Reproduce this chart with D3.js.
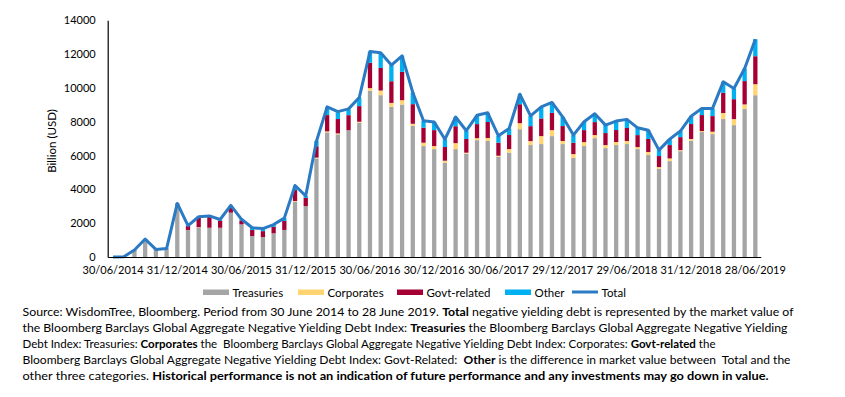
<!DOCTYPE html>
<html>
<head>
<meta charset="utf-8">
<script src="https://cdn.jsdelivr.net/npm/d3@7"></script>
<style>
  html, body { margin: 0; padding: 0; background: #fff; }
  svg { display: block; font-family: Lato, "Open Sans", sans-serif; }
</style>
</head>
<body>
<svg id="chart" width="845" height="397"></svg>
<script>
const categories = [
  "30/06/2014","31/07/2014","29/08/2014","30/09/2014","31/10/2014","28/11/2014","31/12/2014",
  "30/01/2015","27/02/2015","31/03/2015","30/04/2015","29/05/2015","30/06/2015","31/07/2015","31/08/2015","30/09/2015","30/10/2015","30/11/2015","31/12/2015",
  "29/01/2016","29/02/2016","31/03/2016","29/04/2016","31/05/2016","30/06/2016","29/07/2016","31/08/2016","30/09/2016","31/10/2016","30/11/2016","30/12/2016",
  "31/01/2017","28/02/2017","31/03/2017","28/04/2017","31/05/2017","30/06/2017","31/07/2017","31/08/2017","29/09/2017","31/10/2017","30/11/2017","29/12/2017",
  "31/01/2018","28/02/2018","30/03/2018","30/04/2018","31/05/2018","29/06/2018","31/07/2018","31/08/2018","28/09/2018","31/10/2018","30/11/2018","31/12/2018",
  "31/01/2019","28/02/2019","29/03/2019","30/04/2019","31/05/2019","28/06/2019"
];
const treasuries = [0,20,400,1000,430,480,3100,1600,1730,1730,1730,2620,1930,1240,1180,1400,1600,3270,3010,5830,
  7370,7250,7500,7940,9830,9570,8880,9020,7760,6560,6380,5575,6380,6110,6910,6860,5930,6170,7560,6620,
  6680,7150,6680,5870,6560,7030,6440,6620,6680,6380,6030,5220,5670,6260,6880,7390,7270,8160,7800,8750,9570];
const corporates = [0,0,0,0,0,0,0,0,30,0,0,0,0,0,0,0,0,40,0,50,
  60,60,0,60,160,275,235,255,120,200,180,120,355,60,120,180,60,215,355,235,
  470,355,180,215,235,180,180,180,180,120,180,100,160,60,100,60,140,355,355,275,650];
const govtRelated = [0,0,10,40,20,20,50,250,610,650,420,340,220,355,350,390,530,650,490,670,
  965,850,890,925,1500,1340,1280,1675,1160,890,945,810,1000,810,830,945,770,830,1120,885,
  1045,1020,885,670,710,770,710,710,770,710,770,650,790,770,885,945,925,1200,1180,1380,1655];
const other = [0,0,0,10,0,0,20,0,10,40,50,80,80,130,140,120,170,260,110,320,
  480,400,360,500,660,880,950,950,690,410,480,450,540,490,520,540,410,385,590,610,
  685,615,545,455,495,490,470,530,510,430,520,350,350,360,465,395,455,645,635,745,1005];
const total = [0,20,410,1060,450,500,3170,1850,2380,2430,2220,3050,2230,1730,1680,1920,2300,4230,3620,6850,
  8880,8600,8760,9430,12150,12080,11350,11900,9730,8060,7990,6960,8280,7470,8380,8530,7170,7600,9630,8350,
  8880,9140,8290,7210,8000,8470,7800,8040,8140,7640,7500,6320,6970,7450,8330,8790,8790,10360,9970,11150,12880];
const yTicks = [0,2000,4000,6000,8000,10000,12000,14000];
const xTickLabels = ["30/06/2014","31/12/2014","30/06/2015","31/12/2015","30/06/2016","30/12/2016",
  "30/06/2017","29/12/2017","29/06/2018","31/12/2018","28/06/2019"];
const seriesNames = ["Treasuries","Corporates","Govt-related","Other"];
const seriesColors = ["#a5a5a5","#ffd471","#a50034","#00b0f0"];
const totalName = "Total";
const totalColor = "#2a7ac4";

const svg = d3.select("#chart");
const x = d3.scaleBand().domain(categories).range([107.7, 760.7]).paddingInner(0.6).paddingOuter(0.3);
const y = d3.scaleLinear().domain([0, 14000]).range([257, 20.3]);

const rows = categories.map((c, i) => ({
  cat: c, Treasuries: treasuries[i], Corporates: corporates[i], "Govt-related": govtRelated[i], Other: other[i]
}));
const stacked = d3.stack().keys(seriesNames)(rows);

svg.append("g").selectAll("g").data(stacked).join("g")
  .attr("fill", (d, i) => seriesColors[i])
  .selectAll("rect").data(d => d).join("rect")
  .attr("x", d => x(d.data.cat))
  .attr("width", x.bandwidth())
  .attr("y", d => y(d[1]))
  .attr("height", d => Math.max(0, y(d[0]) - y(d[1])));

const line = d3.line().x((d, i) => x(categories[i]) + x.bandwidth() / 2).y(d => y(d));
svg.append("path").datum(total).attr("d", line)
  .attr("fill", "none").attr("stroke", totalColor).attr("stroke-width", 3).attr("stroke-linejoin", "round");

// axes
const yAxis = svg.append("g").attr("transform", "translate(107.7,0)")
  .call(d3.axisLeft(y).tickValues(yTicks).tickSize(0).tickPadding(12).tickFormat(d3.format("d")));
yAxis.select(".domain").attr("stroke", "#000").attr("stroke-width", 1.2);
yAxis.selectAll("text").attr("font-family", "Lato").attr("font-size", "11px").attr("fill", "#000");

const xAxis = svg.append("g").attr("transform", "translate(0,257)")
  .call(d3.axisBottom(x).tickValues(xTickLabels).tickSize(0).tickPadding(9).tickSizeOuter(0));
xAxis.select(".domain").attr("stroke", "#000").attr("stroke-width", 1.2);
xAxis.selectAll("text").attr("font-family", "Lato").attr("font-size", "11px").attr("fill", "#000");

svg.append("text").attr("transform", "translate(56,141) rotate(-90)")
  .attr("text-anchor", "middle").attr("font-size", "11.5px").attr("fill", "#000").text("Billion (USD)");

// legend
const legendX = [203, 298, 397, 505];
seriesNames.forEach((n, i) => {
  svg.append("rect").attr("x", legendX[i]).attr("y", 289.5).attr("width", 26).attr("height", 5.5).attr("fill", seriesColors[i]);
  svg.append("text").attr("x", legendX[i] + 29.5).attr("y", 296.5).attr("font-size", "11.5px").attr("fill", "#000").text(n);
});
svg.append("line").attr("x1", 572).attr("x2", 598).attr("y1", 292).attr("y2", 292)
  .attr("stroke", totalColor).attr("stroke-width", 3);
svg.append("text").attr("x", 601.5).attr("y", 296.5).attr("font-size", "11.5px").attr("fill", "#000").text(totalName);

// source text
const noteLines = [
  {w: 771, parts: [["Source: WisdomTree, Bloomberg. Period from 30 June 2014 to 28 June 2019. ", 0], ["Total", 1], [" negative yielding debt is represented by the market value of", 0]]},
  {w: 765, parts: [["the Bloomberg Barclays Global Aggregate Negative Yielding Debt Index: ", 0], ["Treasuries", 1], [" the Bloomberg Barclays Global Aggregate Negative Yielding", 0]]},
  {w: 693, parts: [["Debt Index: Treasuries: ", 0], ["Corporates", 1], [" the  Bloomberg Barclays Global Aggregate Negative Yielding Debt Index: Corporates: ", 0], ["Govt-related", 1], [" the", 0]]},
  {w: 768, parts: [["Bloomberg Barclays Global Aggregate Negative Yielding Debt Index: Govt-Related:  ", 0], ["Other", 1], [" is the difference in market value between  Total and the", 0]]},
  {w: 746, parts: [["other three categories. ", 0], ["Historical performance is not an indication of future performance and any investments may go down in value.", 1]]}
];
const baselines = [315.7, 331.8, 347.9, 364, 380];
noteLines.forEach((ln, i) => {
  const t = svg.append("text").attr("x", 22.5).attr("y", baselines[i]).attr("font-size", "11.5px")
    .attr("fill", "#000").attr("xml:space", "preserve").style("white-space", "pre")
    .attr("textLength", ln.w).attr("lengthAdjust", "spacingAndGlyphs");
  ln.parts.forEach(p => t.append("tspan").attr("font-weight", p[1] ? "bold" : "normal").text(p[0]));
});
</script>
</body>
</html>
